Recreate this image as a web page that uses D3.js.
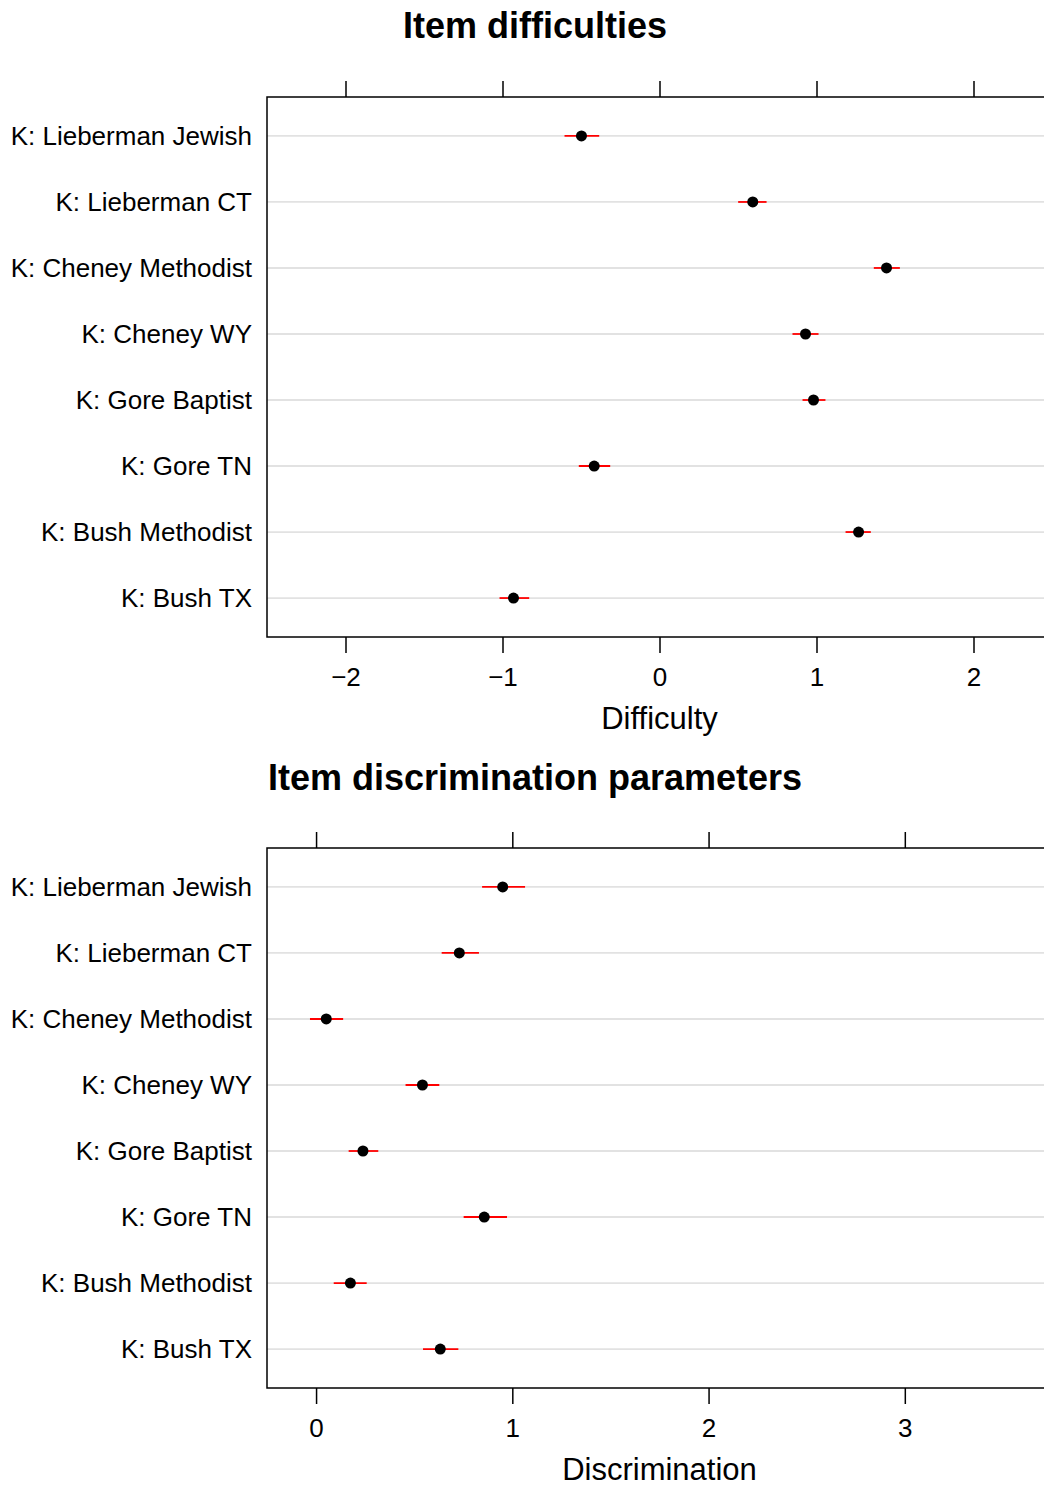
<!DOCTYPE html>
<html>
<head>
<meta charset="utf-8">
<script src="https://cdn.jsdelivr.net/npm/d3@7"></script>
<style>
  body { margin: 0; background: #fff; }
  svg { display: block; font-family: "Liberation Sans", Arial, sans-serif; }
</style>
</head>
<body>
<div id="chart"></div>
<script>
    var width = 1044,
      height = 1489;

    // item labels, top to bottom
    var items = ["K: Lieberman Jewish", "K: Lieberman CT", "K: Cheney Methodist", "K: Cheney WY",
                 "K: Gore Baptist", "K: Gore TN", "K: Bush Methodist", "K: Bush TX"];

    // difficulty estimates and interval ends
    var difficulty = [-0.497, 0.594, 1.446, 0.930, 0.981, -0.416, 1.268, -0.930];
    var difficultyLo = [-0.605, 0.501, 1.365, 0.847, 0.911, -0.514, 1.185, -1.019];
    var difficultyHi = [-0.384, 0.682, 1.531, 1.013, 1.057, -0.314, 1.346, -0.830];

    // discrimination estimates and interval ends
    var discrimination = [0.951, 0.730, 0.052, 0.542, 0.239, 0.857, 0.175, 0.633];
    var discriminationLo = [0.846, 0.640, -0.031, 0.456, 0.166, 0.752, 0.090, 0.545];
    var discriminationHi = [1.065, 0.830, 0.138, 0.628, 0.317, 0.973, 0.258, 0.725];

    var difficultyTicks = [-2, -1, 0, 1, 2];
    var discriminationTicks = [0, 1, 2, 3];

    var svg = d3.select("#chart").append("svg")
      .attr("width", width)
      .attr("height", height);

    var panelLeft = 267, panelRight = 1052;

    function drawPanel(opts) {
      var top = opts.top, bottom = opts.top + 540;

      var x = d3.scaleLinear()
        .domain(opts.domain)
        .range([panelLeft, panelRight]);

      var y = d3.scalePoint()
        .domain(items)
        .range([top, bottom])
        .padding(0.59);

      var rows = items.map(function(name, i) {
        return {name: name, v: opts.values[i], lo: opts.lo[i], hi: opts.hi[i]};
      });

      // title
      svg.append("text")
        .attr("x", 535)
        .attr("y", top - opts.titleGap)
        .attr("text-anchor", "middle")
        .style("font-size", "36px")
        .style("font-weight", "bold")
        .text(opts.title);

      // grid lines
      svg.append("g").selectAll("line")
        .data(rows)
        .enter().append("line")
        .attr("x1", panelLeft)
        .attr("x2", panelRight)
        .attr("y1", function(d) { return y(d.name); })
        .attr("y2", function(d) { return y(d.name); })
        .style("stroke", "#e2e2e2")
        .style("stroke-width", 1.8);

      // item labels
      svg.append("g").selectAll("text")
        .data(rows)
        .enter().append("text")
        .attr("x", 252)
        .attr("y", function(d) { return y(d.name); })
        .attr("dy", "0.36em")
        .attr("text-anchor", "end")
        .style("font-size", "26px")
        .text(function(d) { return d.name; });

      // intervals
      svg.append("g").selectAll("line")
        .data(rows)
        .enter().append("line")
        .attr("x1", function(d) { return x(d.lo); })
        .attr("x2", function(d) { return x(d.hi); })
        .attr("y1", function(d) { return y(d.name); })
        .attr("y2", function(d) { return y(d.name); })
        .style("stroke", "#ff0000")
        .style("stroke-width", 1.8);

      // points
      svg.append("g").selectAll("circle")
        .data(rows)
        .enter().append("circle")
        .attr("cx", function(d) { return x(d.v); })
        .attr("cy", function(d) { return y(d.name); })
        .attr("r", 5.5)
        .style("fill", "#000");

      // axes (ticks only on top, labelled at bottom)
      var axTop = svg.append("g")
        .attr("transform", "translate(0," + top + ")")
        .call(d3.axisTop(x).tickValues(opts.ticks).tickSize(16).tickFormat(""));
      var axBottom = svg.append("g")
        .attr("transform", "translate(0," + bottom + ")")
        .call(d3.axisBottom(x).tickValues(opts.ticks).tickSize(16).tickPadding(15).tickFormat(d3.format("d")));
      [axTop, axBottom].forEach(function(ax) {
        ax.select(".domain").remove();
        ax.selectAll("line").style("stroke", "#000").style("stroke-width", 1.5);
        ax.selectAll("text")
          .style("font-size", "26px")
          .style("font-family", "Liberation Sans, Arial, sans-serif")
          .style("fill", "#000");
      });

      // frame
      svg.append("rect")
        .attr("x", panelLeft)
        .attr("y", top)
        .attr("width", panelRight - panelLeft)
        .attr("height", bottom - top)
        .style("fill", "none")
        .style("stroke", "#000")
        .style("stroke-width", 1.5);

      // axis title
      svg.append("text")
        .attr("x", (panelLeft + panelRight) / 2)
        .attr("y", bottom + 92)
        .attr("text-anchor", "middle")
        .style("font-size", "31px")
        .text(opts.xlab);
    }

    drawPanel({
      top: 97, domain: [-2.5, 2.5], ticks: difficultyTicks,
      values: difficulty, lo: difficultyLo, hi: difficultyHi,
      title: "Item difficulties", titleGap: 59, xlab: "Difficulty"
    });

    drawPanel({
      top: 848, domain: [-0.25, 3.75], ticks: discriminationTicks,
      values: discrimination, lo: discriminationLo, hi: discriminationHi,
      title: "Item discrimination parameters", titleGap: 58, xlab: "Discrimination"
    });
</script>
</body>
</html>
